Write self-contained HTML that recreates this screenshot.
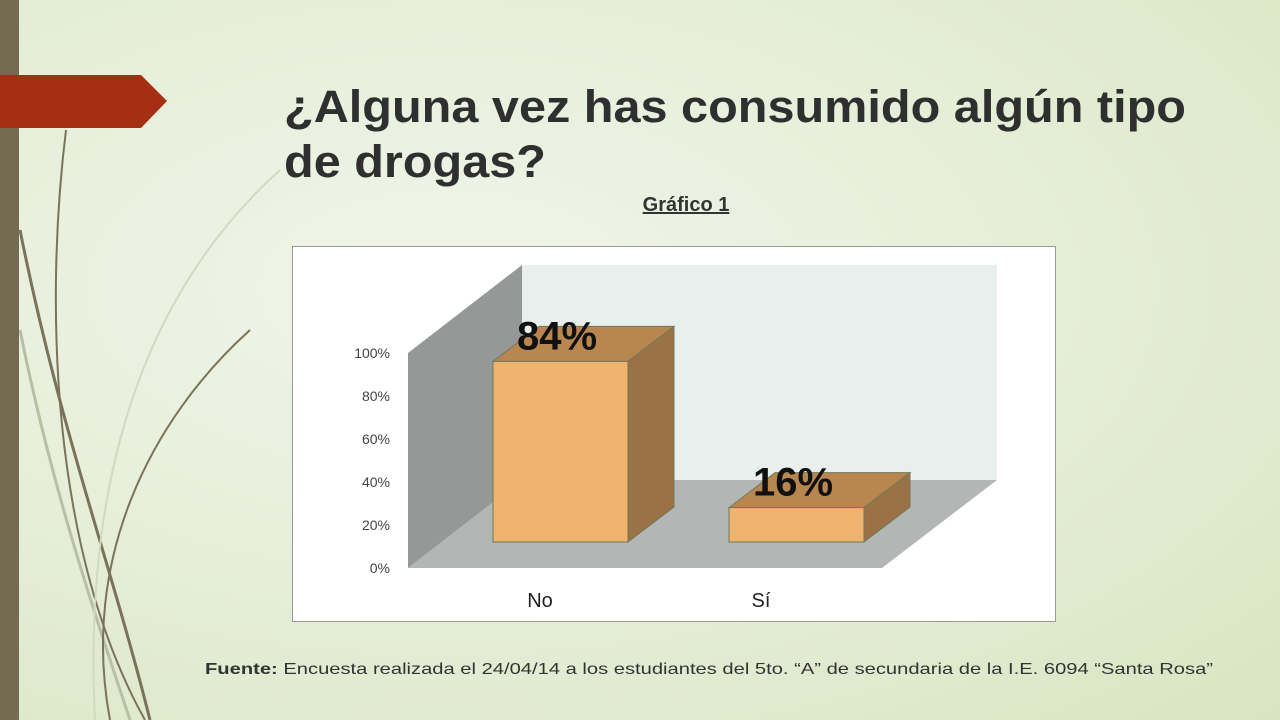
<!DOCTYPE html>
<html><head><meta charset="utf-8"><style>
body{margin:0;width:1280px;height:720px;overflow:hidden;font-family:"Liberation Sans",sans-serif;}
#bg{position:absolute;left:0;top:0;width:1280px;height:720px;background:radial-gradient(ellipse at 35% 40%,#f1f5ea 0%,#e6eed8 50%,#d9e5c2 100%);}
</style></head><body>
<div id="bg"></div>
<svg width="1280" height="720" style="position:absolute;left:0;top:0">
<g fill="none">
<path d="M66 130 C45 300 50 550 145 720" stroke="#7a735a" stroke-width="2"/>
<path d="M20 230 C60 430 110 560 150 720" stroke="#7a735a" stroke-width="3"/>
<path d="M20 330 C50 480 90 600 130 720" stroke="#b9bfa5" stroke-width="3"/>
<path d="M250 330 C150 420 80 560 110 720" stroke="#7a735a" stroke-width="2"/>
<path d="M280 170 C180 260 80 420 95 720" stroke="#d2d9c1" stroke-width="2"/>
</g>
<rect x="0" y="0" width="19" height="720" fill="#736b52"/>
<polygon points="0,75 141,75 167,101 141,128 0,128" fill="#a52f12"/>
<text x="284" y="122" font-size="45" font-weight="bold" fill="#2f2f2f" textLength="902" lengthAdjust="spacingAndGlyphs">¿Alguna vez has consumido algún tipo</text>
<text x="284" y="177" font-size="45" font-weight="bold" fill="#2f2f2f" textLength="262" lengthAdjust="spacingAndGlyphs">de drogas?</text>
<text x="686" y="211" font-size="20" font-weight="bold" fill="#333" text-anchor="middle" text-decoration="underline">Gráfico 1</text>
<rect x="292.5" y="246.5" width="763" height="375" fill="#fff" stroke="#999"/>
<g id="chart"></g>
<text x="205" y="674" font-size="16" fill="#333" textLength="1008" lengthAdjust="spacingAndGlyphs"><tspan font-weight="bold">Fuente:</tspan> Encuesta realizada el 24/04/14 a los estudiantes del 5to. “A” de secundaria de la I.E. 6094 “Santa Rosa”</text>
</svg>
<script>
const categories=["No","Sí"];
const values=[84,16];
const valueLabels=["84%","16%"];
const ticks=[0,20,40,60,80,100];
const NS="http://www.w3.org/2000/svg";
const g=document.getElementById('chart');
function mk(t,a){const e=document.createElementNS(NS,t);for(const k in a)e.setAttribute(k,a[k]);g.appendChild(e);return e;}
const x0=408,yFloor=568,pxPer=2.15,dx=114,dy=-88;
const yAxis=v=>yFloor-v*pxPer;
let e;
e=mk('polygon',{points:`${x0+dx},${yFloor+dy-215} 997,${yFloor+dy-215} 997,${yFloor+dy} ${x0+dx},${yFloor+dy}`,fill:'#e9efec'});


e=mk('polygon',{points:`${x0},${yAxis(100)} ${x0+dx},${yAxis(100)+dy} ${x0+dx},${yFloor+dy} ${x0},${yFloor}`,fill:'#959897'});


e=mk('polygon',{points:`${x0},${yFloor} ${x0+dx},${yFloor+dy} 997,${yFloor+dy} 882,${yFloor}`,fill:'#b4b6b5'});


ticks.forEach(t=>{const tx=mk('text',{x:390,y:yAxis(t)+5,'font-size':14,fill:'#444','text-anchor':'end'});tx.textContent=t+'%';

});
const base=542,bw=135,bdx=46,bdy=-35,xs=[493,729];
categories.forEach((c,i)=>{
const h=values[i]*pxPer,x=xs[i],top=base-h;
let p=mk('polygon',{points:`${x},${top} ${x+bdx},${top+bdy} ${x+bw+bdx},${top+bdy} ${x+bw},${top}`,fill:'#b98650',stroke:'#6f7a5a'});


p=mk('polygon',{points:`${x+bw},${top} ${x+bw+bdx},${top+bdy} ${x+bw+bdx},${base+bdy} ${x+bw},${base}`,fill:'#9a7245',stroke:'#6f7a5a'});


p=mk('rect',{x:x,y:top,width:bw,height:h,fill:'#efb370',stroke:'#6f7a5a'});


const l=mk('text',{x:x+24,y:top-12,'font-size':40,'font-weight':'bold',fill:'#111'});l.textContent=valueLabels[i];


const cl=mk('text',{x:x+47+(i?-15:0),y:607,'font-size':20,fill:'#222','text-anchor':'middle'});cl.textContent=c;


});
</script>
</body></html>
